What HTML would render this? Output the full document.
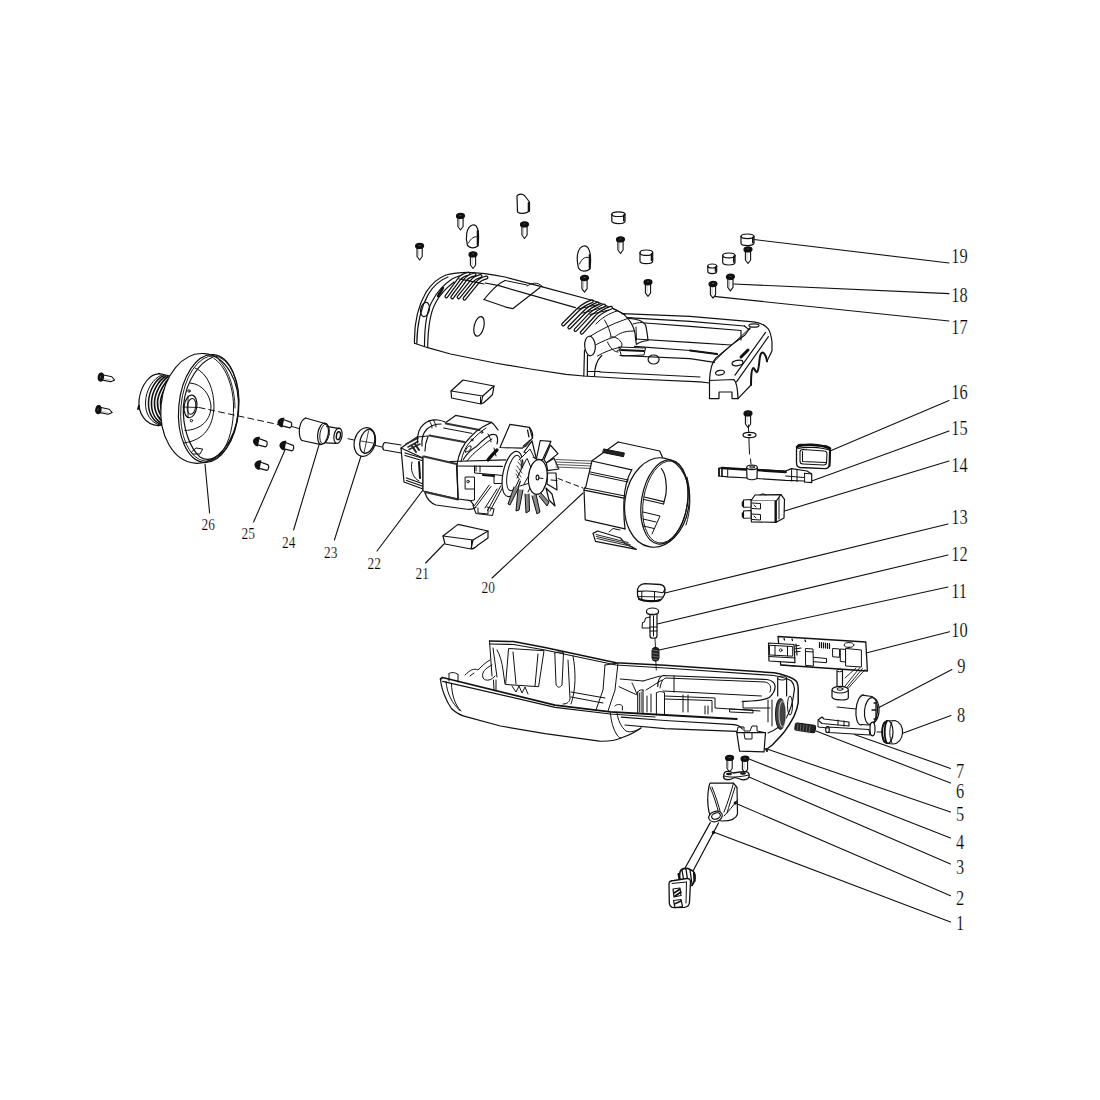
<!DOCTYPE html>
<html><head><meta charset="utf-8"><style>
html,body{margin:0;padding:0;background:#fff;width:1100px;height:1100px;overflow:hidden}
svg{position:absolute;left:0;top:0}
text{font-family:"Liberation Serif",serif;font-size:20px;fill:#000;stroke:#fff;stroke-width:0.2px}
</style></head><body>
<svg width="1100" height="1100" viewBox="0 0 1100 1100">
<defs>
<symbol id="sv" overflow="visible">
<path d="M-2.6,1.5 L-2.6,11 L0,14.5 L2.6,11 L2.6,1.5" fill="#fff" stroke="#111" stroke-width="1.1"/>
<path d="M-0.9,3.5 L-0.9,10.5" stroke="#aaa" stroke-width="0.7"/>
<ellipse cx="0" cy="0.4" rx="4" ry="2.6" fill="#111"/>
<ellipse cx="0" cy="-0.1" rx="2.1" ry="1" fill="#666"/>
</symbol>
</defs>
<g fill="none" stroke="#111" stroke-width="1.2" stroke-linejoin="round" stroke-linecap="round">
<path d="M754,239.5 L949,263" stroke-width="1.1"/>
<path d="M733.6,284 L949,293.6" stroke-width="1.1"/>
<path d="M713.6,296.4 L949,321" stroke-width="1.1"/>
<path d="M830,451 L949,400.5" stroke-width="1.1"/>
<path d="M811.7,481 L949,431" stroke-width="1.1"/>
<path d="M784.5,511 L949,461" stroke-width="1.1"/>
<path d="M665,593 L948,524" stroke-width="1.1"/>
<path d="M657.3,624 L948,555" stroke-width="1.1"/>
<path d="M659,650 L948,587" stroke-width="1.1"/>
<path d="M867,652.7 L949.5,631.7" stroke-width="1.1"/>
<path d="M878,708 L951.9,669.4" stroke-width="1.1"/>
<path d="M902,733.6 L951,715.5" stroke-width="1.1"/>
<path d="M854.5,734.5 L950.5,768.4" stroke-width="1.1"/>
<path d="M816,731 L950.5,783" stroke-width="1.1"/>
<path d="M767,749 L950.5,812" stroke-width="1.1"/>
<path d="M749.7,759.3 L950.5,838" stroke-width="1.1"/>
<path d="M749,777 L950.5,864" stroke-width="1.1"/>
<path d="M735,803 L950.5,895.7" stroke-width="1.1"/>
<path d="M713.4,832 L950.5,922" stroke-width="1.1"/>
<path d="M205,464 L209.6,513" stroke-width="1.1"/>
<path d="M285,450 L253.6,522" stroke-width="1.1"/>
<path d="M319,445 L293.6,530" stroke-width="1.1"/>
<path d="M361,456 L334.4,540" stroke-width="1.1"/>
<path d="M423,490 L377,551" stroke-width="1.1"/>
<path d="M444,544 L425.6,563" stroke-width="1.1"/>
<path d="M583,493 L492,578" stroke-width="1.1"/>
<text transform="translate(951.2,262.7) scale(0.8,1)" style="font-size:20.5px">19</text>
<text transform="translate(951.2,301.8) scale(0.8,1)" style="font-size:20.5px">18</text>
<text transform="translate(951.2,334) scale(0.8,1)" style="font-size:20.5px">17</text>
<text transform="translate(951.2,399) scale(0.8,1)" style="font-size:20.5px">16</text>
<text transform="translate(951.2,435) scale(0.8,1)" style="font-size:20.5px">15</text>
<text transform="translate(951.2,472) scale(0.8,1)" style="font-size:20.5px">14</text>
<text transform="translate(951.2,523.7) scale(0.8,1)" style="font-size:20.5px">13</text>
<text transform="translate(951.2,561) scale(0.8,1)" style="font-size:20.5px">12</text>
<text transform="translate(951.2,598) scale(0.8,1)" style="font-size:20.5px">11</text>
<text transform="translate(951.2,636.7) scale(0.8,1)" style="font-size:20.5px">10</text>
<text transform="translate(957.3,673.2) scale(0.8,1)" style="font-size:20.5px">9</text>
<text transform="translate(956.9,721.8) scale(0.8,1)" style="font-size:20.5px">8</text>
<text transform="translate(956.0,778) scale(0.8,1)" style="font-size:20.5px">7</text>
<text transform="translate(956.0,798) scale(0.8,1)" style="font-size:20.5px">6</text>
<text transform="translate(956.0,820.7) scale(0.8,1)" style="font-size:20.5px">5</text>
<text transform="translate(956.0,849) scale(0.8,1)" style="font-size:20.5px">4</text>
<text transform="translate(956.0,874) scale(0.8,1)" style="font-size:20.5px">3</text>
<text transform="translate(956.0,905) scale(0.8,1)" style="font-size:20.5px">2</text>
<text transform="translate(956.0,930) scale(0.8,1)" style="font-size:20.5px">1</text>
<text transform="translate(201.5,530.2) scale(0.76,1)" style="font-size:17.6px">26</text>
<text transform="translate(241.6,539.4) scale(0.76,1)" style="font-size:17.6px">25</text>
<text transform="translate(282,547.6) scale(0.76,1)" style="font-size:17.6px">24</text>
<text transform="translate(324,557.6) scale(0.76,1)" style="font-size:17.6px">23</text>
<text transform="translate(367.6,569) scale(0.76,1)" style="font-size:17.6px">22</text>
<text transform="translate(415.6,579) scale(0.76,1)" style="font-size:17.6px">21</text>
<text transform="translate(481.6,593) scale(0.76,1)" style="font-size:17.6px">20</text>
<use href="#sv" x="419.6" y="245.5"/>
<use href="#sv" x="460.5" y="215.5"/>
<use href="#sv" x="473" y="254"/>
<use href="#sv" x="524.5" y="224"/>
<use href="#sv" x="584.5" y="277.6"/>
<use href="#sv" x="620.5" y="239"/>
<use href="#sv" x="648" y="281.8"/>
<use href="#sv" x="748" y="249"/>
<use href="#sv" x="730.4" y="276.4"/>
<use href="#sv" x="713" y="283.6"/>
<use href="#sv" x="748" y="413"/>
<use href="#sv" x="729.6" y="757.5"/>
<use href="#sv" x="745" y="758.3"/>
<g transform="translate(280,422) rotate(12)"><path d="M2,-3.2 L11,-2 A1.6,3 0 0 1 11,3.6 L2,3.2" fill="#fff"/><path d="M3.5,-5 C0,-5 -2.5,-2 -2.5,0 C-2.5,2.5 0,5 3.5,5 Z" fill="#111" stroke="none"/></g>
<g transform="translate(255.5,441) rotate(12)"><path d="M2,-3.2 L11,-2 A1.6,3 0 0 1 11,3.6 L2,3.2" fill="#fff"/><path d="M3.5,-5 C0,-5 -2.5,-2 -2.5,0 C-2.5,2.5 0,5 3.5,5 Z" fill="#111" stroke="none"/></g>
<g transform="translate(282,445) rotate(12)"><path d="M2,-3.2 L11,-2 A1.6,3 0 0 1 11,3.6 L2,3.2" fill="#fff"/><path d="M3.5,-5 C0,-5 -2.5,-2 -2.5,0 C-2.5,2.5 0,5 3.5,5 Z" fill="#111" stroke="none"/></g>
<g transform="translate(257,464.5) rotate(12)"><path d="M2,-3.2 L11,-2 A1.6,3 0 0 1 11,3.6 L2,3.2" fill="#fff"/><path d="M3.5,-5 C0,-5 -2.5,-2 -2.5,0 C-2.5,2.5 0,5 3.5,5 Z" fill="#111" stroke="none"/></g>
<g transform="translate(100.5,377) rotate(-78)"><use href="#sv"/></g>
<g transform="translate(98,409.5) rotate(-78)"><use href="#sv"/></g>
<ellipse cx="618.4" cy="214.16" rx="6.600000000000023" ry="2.3599999999999968"/><path d="M611.8,214.16 L611.8,221.24 A6.600000000000023,2.3599999999999968 0 0 0 625,221.24 L625,214.16"/><path d="M623.8,215.16 L623.8,220.74" stroke-width="1.6"/>
<ellipse cx="646.35" cy="252.72" rx="6.350000000000023" ry="2.7200000000000046"/><path d="M640,252.72 L640,260.88 A6.350000000000023,2.7200000000000046 0 0 0 652.7,260.88 L652.7,252.72"/><path d="M651.5,253.72 L651.5,260.38" stroke-width="1.6"/>
<ellipse cx="747.5" cy="236.3" rx="6.5" ry="2.3000000000000003"/><path d="M741,236.3 L741,243.2 A6.5,2.3000000000000003 0 0 0 754,243.2 L754,236.3"/><path d="M752.8,237.3 L752.8,242.7" stroke-width="1.6"/>
<ellipse cx="728.85" cy="255.4" rx="6.149999999999977" ry="2.4000000000000004"/><path d="M722.7,255.4 L722.7,262.6 A6.149999999999977,2.4000000000000004 0 0 0 735,262.6 L735,255.4"/><path d="M733.8,256.4 L733.8,262.1" stroke-width="1.6"/>
<ellipse cx="712.25" cy="266" rx="4.4500000000000455" ry="2"/><path d="M707.8,266 L707.8,271.6 A4.4500000000000455,2 0 0 0 716.7,271.6 L716.7,266"/><path d="M715.5,267 L715.5,271.1" stroke-width="1.6"/>
<path d="M467.5,245.5 C465,237 466.5,227 472.5,225 C477.5,224 479,231 478.5,240 L478,246 C474.5,248.5 470,248.5 467.5,245.5 Z"/><path d="M468.5,243 C471,238 474.5,236 477.5,237" stroke-width="1"/><path d="M477.6,231 L477.6,245" stroke-width="1.8"/>
<path d="M517,196 C518.5,193.5 522.5,193.5 524.5,195.5 L529.5,202 L529.5,211 C526,214 520,214 517.5,212 Z"/><path d="M528.6,203 L528.6,211" stroke-width="1.8"/>
<path d="M578.5,268 C576,258 577,248 583.5,246 C589,245 591,253 590.5,263 L590,269 C586,272 581,272 578.5,268 Z"/><path d="M579.5,264 C582,258 586,256 589.5,258" stroke-width="1"/><path d="M589.6,255 L589.6,268" stroke-width="1.8"/>
<g id="tophousing">
<!-- main body outline -->
<path d="M414.5,343.2 C414,325 417,308 426,292.3 C432,283 438,278 446,275 C453,273 460,272.3 468,272.3 C478,272.5 490,274 505,277 L542.3,286.9 L593,300.5 C603,303.5 613,308.7 625,314.6" />
<path d="M416.8,343.5 C417,326 420,309 428.5,294 C434,285 440,280 448,277" />
<path d="M424.5,346 C424.5,325 427,310 432.3,301 C437,292 443,285 452,279 C458,276 463,274.5 470,274" />
<path d="M427.7,346.8 C428,327 430.5,312 435.5,303 C440,294 446,288 454,282" />
<path d="M414.5,343.2 L427.7,347.7 L450.5,354 L495,363 L530.5,369 L566,374.3 L583.7,376 L625,378.5 L700,381.8 L709.5,383" />
<path d="M600,372 L700,377" />
<!-- left holes -->
<ellipse cx="425" cy="309.5" rx="4.3" ry="7.3" transform="rotate(12 425 309.5)"/>
<ellipse cx="479" cy="326.4" rx="4.8" ry="10" transform="rotate(14 479 326.4)"/>
<!-- small slot marks -->
<path d="M438,296 L443,288" stroke-width="2.2"/>
<!-- left vents -->
<path d="M446.4,296.4 L459.5,278.6 Q462.5,275.1 468.5,273.8" stroke-width="4"/><path d="M446.4,296.4 L459.5,278.6 Q462.5,275.1 468.5,273.8" stroke="#fff" stroke-width="1.5"/>
<path d="M452.3,297.3 L465.5,279.5 Q468.5,276.0 474.5,274.6" stroke-width="4"/><path d="M452.3,297.3 L465.5,279.5 Q468.5,276.0 474.5,274.6" stroke="#fff" stroke-width="1.5"/>
<path d="M458.6,297.3 L471.8,281 Q474.8,277.5 480.5,276" stroke-width="4"/><path d="M458.6,297.3 L471.8,281 Q474.8,277.5 480.5,276" stroke="#fff" stroke-width="1.5"/>
<path d="M464.5,298.6 L477.7,282.3 Q480.7,278.8 486.5,277.5" stroke-width="4"/><path d="M464.5,298.6 L477.7,282.3 Q480.7,278.8 486.5,277.5" stroke="#fff" stroke-width="1.5"/>
<path d="M438,296 L443,288" stroke-width="2.2"/>
<path d="M459,279 L480,283 M465,280 L484,284" stroke-width="1"/>
<!-- ridge line & window -->
<path d="M485,283 L499,285.7 L575.4,307.6" />
<path d="M484,299.5 L505,306.8 L512.7,308.7 L540,287.5" />
<path d="M484,299.5 C490,292 497,284 505,280.5" />
<path d="M505,280.5 L527,285" stroke-width="1"/>
<path d="M527,286 C532,283 537,281 543,287" stroke-width="1"/>
<!-- right vents -->
<path d="M563.2,324.5 L578.2,309.5 Q584,304 591.8,301.4" stroke-width="4"/><path d="M563.2,324.5 L578.2,309.5 Q584,304 591.8,301.4" stroke="#fff" stroke-width="1.5"/>
<path d="M569.3,327.5 L584,312.5 Q590,306.5 597.5,303.6" stroke-width="4"/><path d="M569.3,327.5 L584,312.5 Q590,306.5 597.5,303.6" stroke="#fff" stroke-width="1.5"/>
<path d="M575.5,330 L590,314.5 Q596,309 604,305.5" stroke-width="4"/><path d="M575.5,330 L590,314.5 Q596,309 604,305.5" stroke="#fff" stroke-width="1.5"/>
<path d="M581.8,332.7 L596.4,316.4 Q602,311 611,307.7" stroke-width="4"/><path d="M581.8,332.7 L596.4,316.4 Q602,311 611,307.7" stroke="#fff" stroke-width="1.5"/>
<path d="M578,309 L601,304 M583,313 L606,306.5 M590,314.5 L609,310" stroke-width="1"/>
<!-- shoulder -->
<path d="M612.7,308.2 C620,311 627,316 631,322.7 C634,328 635.5,334 635.5,338.2 L636.4,344.5" />
<path d="M590,336.4 C600,330 612,324 623.6,320 C627,318.5 630,318 632,318" stroke-width="1"/>
<path d="M596.4,344.5 C603,341 608,339 614.5,337 C620,333 624,331 634,331" stroke-width="1"/>
<path d="M604.5,320 C608,326 610,331 611,336" stroke-width="1"/>
<path d="M596,324 C601,318 610,313 617,311" stroke-width="1"/>
<path d="M597.5,356 C604,352 612,349 620,347.3" stroke-width="1"/>
<ellipse cx="590" cy="346" rx="5.3" ry="9.8" transform="rotate(-5 590 346)"/>
<path d="M584.5,350 L583.8,376 M587.5,355 L587.3,376" />
<path d="M594.5,376 C594.5,368 597,360 601.8,355.5" />
<path d="M610,337 C615,336 620,339 622,344 C622,348 620,350 617,351" stroke-width="1"/>
<path d="M607.5,342 C610,348 614,352 618,352" stroke-width="1"/>
<path d="M587.5,371.5 L600,371.5" stroke-width="1"/>
<!-- saddle -->
<path d="M630,318.5 C638,319 643,321 645.5,325 C647,330 647.5,336 648,340.5 C644,341 640,342 637,344" />
<path d="M633,324 C638,322.5 642,322 645,323" stroke-width="1"/>
<path d="M636,327 L636.5,340" stroke-width="1"/>
<!-- frame rails -->
<path d="M621.8,313.6 L690,316.4 L753.6,321.8 C760,322.5 765,325 768,328.6 C770,331 771,334 772,341.8 L772,350.5 C771,354 769,356 767,361.4" />
<path d="M627,317.7 L690,321.4 L744.5,326" />
<path d="M645.5,323 L690,326.4 L741,330.5 L741,340" />
<path d="M635.5,339 L690,342.3 L731,345" />
<path d="M634.5,346.4 L690,350.5 L717,354" />
<path d="M690,350.5 L717,354" stroke-width="2.2"/>
<path d="M620,355.5 L690,358.6 L714.5,362.3" />
<path d="M619,347 L645.5,348 L644,355 L622,356 Z" stroke-width="1"/>
<path d="M621,350 L644,351" stroke-width="1.8"/>
<ellipse cx="653.6" cy="359.5" rx="5.5" ry="4.5"/>
<!-- right end -->
<path d="M744.5,326 C748,329 750,331 750,328 L745,335 C735,342 725,350 716,358 C712,362 710,370 709.5,380.5" />
<path d="M750,327.7 C740,338 725,350 712.7,363" stroke-width="1"/>
<path d="M735,375.2 L765.5,332.4" /><path d="M736.5,381.8 L768.4,336.7" />
<path d="M709.5,380.5 L733.6,379.5 C736,381 737.5,385 738,398.6 L732,398.6 L732,392 L719,392 L719,398.6 L709.5,398.6 Z" />
<path d="M738,398.6 L751,385" />
<path d="M767,361.4 C766.5,358 765,354 763.3,352.7 C761,352 760,355 759.5,360 C759,366 758.5,371 756.8,372.3 C755,372 754.5,367.5 753.2,368 C751.5,369 751,376 751,385" stroke-width="2"/>
<ellipse cx="737.5" cy="363" rx="5.5" ry="2.6" transform="rotate(-10 737.5 363)"/>
<ellipse cx="720" cy="372.7" rx="4.5" ry="2.3" transform="rotate(-10 720 372.7)"/>
<path d="M741,357 L748,350" stroke-width="3"/>
<ellipse cx="754" cy="325.5" rx="5" ry="1.7"/>
</g>

<g id="endcap">
<!-- threaded neck -->
<path d="M160,374 C150,373 141,385 139,400 C138,413 145,425 158.4,425.7" />
<path d="M158.4,373.4 L170,376" /><path d="M158.4,425.7 L167,424" />
<path d="M162,375 C153,378 146,390 145.5,402 C145,414 151,423 160,425" stroke-width="1"/>
<path d="M164,375.5 C156,379 149,390 148.5,402 C148,413 153,422 162,424.8" stroke-width="1.5"/>
<path d="M166,376 C159,380 152,391 151.5,402 C151,413 156,421 164,424.5" stroke-width="1.6"/>
<path d="M168,376.5 C162,381 155,392 154.5,402 C154,412 159,420 166,424" stroke-width="1.6"/>
<path d="M170,377 C165,382 158,393 157.5,402 C157,411 162,419 168,423.5" stroke-width="1.6"/>
<path d="M171.5,378 C167,383 161,394 160.5,402 C160,411 164,418 169,423" stroke-width="1.6"/>
<path d="M139,406 L138,409" stroke-width="2"/>
<!-- flange back silhouette -->
<ellipse cx="199.6" cy="408.4" rx="38.7" ry="55" transform="rotate(5 199.6 408.4)" fill="#fff"/>
<!-- front rim outer -->
<ellipse cx="208.7" cy="408.5" rx="30" ry="54" transform="rotate(5 208.7 408.5)"/>
<ellipse cx="209.7" cy="408.5" rx="28.8" ry="52.8" transform="rotate(5 209.7 408.5)" stroke-width="0.9"/>
<!-- inner rim -->
<path d="M213,357 C200,362 186,380 183.5,405 C182,428 190,448 200,457 C206,461 214,460 222,452" />
<path d="M214,358.5 C225,365 233,385 233.5,405 C234,425 229,443 222,452" stroke-width="1"/>
<path d="M219,360 C229,370 235,390 235,408" stroke-width="0.9"/>
<!-- hub plate arcs -->
<path d="M190,383 C203,384 210,395 211,406 C211,420 201,430 185,430.5" stroke-width="1"/>
<path d="M195,368 C208,373 214,390 214,407 C213,426 205,440 184,443" stroke-width="1"/>
<ellipse cx="190.5" cy="406.4" rx="6.3" ry="11.4" transform="rotate(8 190.5 406.4)"/>
<ellipse cx="191.5" cy="406.4" rx="4.2" ry="8" transform="rotate(8 191.5 406.4)" stroke-width="1"/>
<path d="M183,407 L198,407.5 M188,396 L188,417" stroke-width="0.9"/>
<circle cx="189" cy="391" r="1.2" stroke-width="1"/>
<circle cx="191.4" cy="420.6" r="1.2" stroke-width="1"/>
<path d="M191.5,452 L196,448 L202.7,449 L200,454 L193,454 Z" stroke-width="1"/>
<!-- dashed axis -->
<path d="M199,407.5 L278,424.5" stroke-dasharray="6,4" stroke-width="1"/>
</g>

<g id="coupling">
<!-- 24 -->
<path d="M305.5,418 C301,420 299,427 299.3,432 C299.5,437 300,439 302,440.5" />
<path d="M305.5,418 L326.7,424" /><path d="M302,440.5 L321,444.6" />
<ellipse cx="323" cy="433.7" rx="5.2" ry="10.8" transform="rotate(10 323 433.7)"/>
<ellipse cx="324.6" cy="433.9" rx="4.6" ry="10" transform="rotate(10 324.6 433.9)" stroke-width="0.9"/>
<path d="M326.7,426.3 L339.7,428.6" /><path d="M325.6,442.8 L336.2,443.4" />
<ellipse cx="338" cy="435.7" rx="4" ry="7.7" transform="rotate(10 338 435.7)"/>
<ellipse cx="338.4" cy="435.7" rx="2" ry="4" transform="rotate(10 338.4 435.7)" stroke-width="1.4"/>
<path d="M291.3,426.3 L299,428.6" stroke-width="1"/>
<!-- 23 ring -->
<ellipse cx="364.8" cy="442" rx="10.4" ry="14.6" transform="rotate(15 364.8 442)" fill="#fff"/>
<ellipse cx="367.3" cy="441.3" rx="7.2" ry="12.2" transform="rotate(15 367.3 441.3)" stroke-width="1.3"/>
<path d="M372,430 C375,434 376,440 375,446" stroke-width="1"/>
<path d="M361,441 L373,443 M368.5,431 L364,453" stroke-width="0.8"/>
<path d="M348,438.7 L354,440" stroke-width="1"/>
<path d="M375.5,445.5 L382,447" stroke-width="1"/>
<!-- 25 pins -->
</g>

<g id="motor">
<!-- shaft -->
<path d="M385,442.5 C382.5,443 382,449 384,450 L401,453 M385,442.5 L401,445" />
<!-- front bracket -->
<path d="M401,448 L417,437 L428,436" />
<path d="M401,448 L404,482 L423,489 L423,458 Z" fill="#fff"/>
<path d="M405,453 L422,458 M405,455.5 L422,460.5" stroke-width="1.3"/>
<path d="M406.5,478 L422,483.5 M406.5,480.5 L422,486" stroke-width="1.3"/>
<path d="M412,462 C410,470 413,478 419,481" stroke-width="1"/>
<path d="M419,462 L420,478" stroke-width="2"/>
<path d="M406,444 L418,438 M408,447 L418,441.5 M409,449.5 L420,444" stroke-width="1.6" stroke="#333"/>
<path d="M412,446 L416,452 M415,444 L419,450" stroke-width="2" stroke="#222"/>
<!-- coil loop left -->
<path d="M417.5,443 C417,435 419,428 424,424 C428,420.5 433,419.5 438,420 C441,420.5 443,421 445,422" />
<path d="M422,446 C421.5,440 423,433 427,429 C431,425.5 436,424 441,424" />
<path d="M429,420.5 C431,423 432,426 432,428" stroke-width="1"/>
<path d="M433.5,420 C435,423 436,425 436,427" stroke-width="1"/>
<!-- stator top -->
<path d="M445.8,422.4 L455.6,415.4 L491.6,422.4 C494,424 496,427 498,430" />
<path d="M445.8,423.5 L479.6,430" stroke-width="2" stroke="#333"/>
<path d="M443.6,428 L472,433.4" stroke-width="1"/>
<path d="M429.4,435.5 L464.3,442" stroke-width="2" stroke="#333"/>
<path d="M428,436.6 C426,441 425,446 425,451" />
<!-- stator front face -->
<path d="M423,456 L423,491 L458,499 L457,464.5" fill="#fff"/>
<path d="M424,456.5 L456.7,464" stroke-width="2" stroke="#333"/>
<path d="M425,492 L458,499.5" stroke-width="2" stroke="#333"/>
<path d="M425,493 C427,499 430,503 436,505 L465,509 C470,510 474,509 476,507" />
<!-- stator right curved band -->
<path d="M457,464.5 C459,452 463,444 469.8,437.7 C474,433 479,429 483,426.8 L491.6,422.4" />
<path d="M461,461.7 C463,452 466,446 471,441 C476,436 480,432 486,428" stroke-width="1"/>
<circle cx="472" cy="440" r="1" stroke-width="1"/>
<circle cx="481.8" cy="432.3" r="1" stroke-width="1"/>
<path d="M465.4,452 C466,447 469,445.5 471,446 C471.5,449 469,452 465.4,452 Z" stroke-width="1"/>
<!-- coil arch right -->
<path d="M463.3,459.5 C467,453 472,449 476.3,446.4 C481,442 485,438 489.4,435.5 C492,434 494,434 496,435 C498,437 498,440 497,444" />
<path d="M467,461 C471,456 475,452 479,449 C484,445 488,441 492,439" stroke-width="1"/>
<path d="M488,434 C490,437 491,440 491,442" stroke-width="1"/>
<path d="M488,460 C491,456 495,452 497,450" stroke-width="3.2"/>
<path d="M494,448 L496,456" stroke-width="1"/>
<!-- rear bracket -->
<path d="M450,461.5 L505.6,459.8 M456.5,466 L502.4,466.4" />
<path d="M456.5,466 L458.2,499 L470.5,500.7 L474,505.6" fill="none"/>
<path d="M474.5,466 L474.5,473 L502.4,475.4 L503,483.5 L494,483.5 L494,474.5" stroke-width="1"/>
<path d="M465.5,477 L474.5,477 L474.5,489 L465.5,489 Z" stroke-width="1"/>
<circle cx="468" cy="481.5" r="1.3" stroke-width="0.9"/>
<path d="M474.5,489 L474.5,500 L470.5,500.7" stroke-width="1"/>
<path d="M489.3,485 L474.5,505.6 M491,486.5 L476.5,506" stroke-width="1"/>
<path d="M500.7,486 L487.6,510.5 M503,487 L490,511 M497,489 L485,508" stroke-width="1"/>
<path d="M473,505.6 L476,513.5 L492.5,515.5 L494,509 L487,507" stroke-width="1.1"/>
<path d="M478,508 L478,513 L488,514 L488,509" stroke-width="1"/>
<path d="M476,466 L476,471 M480,466 L480,472" stroke-width="1"/>
<path d="M483,475 L494,476" stroke-width="2"/>
<!-- brush holder box -->
<path d="M500,447.5 L510,424.3 L529.4,427.4 L532.5,438.2 L522.5,448.2 Z" fill="#fff"/>
<path d="M529.4,427.4 C532,430 533,434 532.5,438.2 M527.5,430 L529,437" stroke-width="1.2"/>
<path d="M523,446 L530,440 M525,447 L532,441" stroke-width="1"/>
<!-- fan back ring -->
<ellipse cx="512.5" cy="474" rx="9.5" ry="23" transform="rotate(12 512.5 474)" fill="#fff"/>
<ellipse cx="514" cy="473" rx="6.5" ry="18" transform="rotate(12 514 473)" stroke-width="1"/>
<!-- fan blades top/right (wide) -->
<path d="M524,452 L532,441 L536.4,459 Z" fill="#fff"/>
<path d="M540.2,440.5 L551,441.3 L542.5,459.8 L536.4,459 Z" fill="#fff"/>
<path d="M550.3,445 L558,453.6 L546.4,463 L544,459.8 Z" fill="#fff"/>
<path d="M554,458.3 L558.8,469 L547.6,470.6 L546.4,463 Z" fill="#fff"/>
<path d="M547.6,473 L556,473 L557,490 L547,484 Z" fill="#fff"/>
<path d="M551,480 L557,480.5" stroke-width="1"/>
<path d="M546,488 L552,494 L555,506 L549,500 Z" fill="#fff"/>
<path d="M541,493 L549,502 L547,506 L539,496" fill="#888" stroke-width="1"/>
<!-- fan blades bottom (thin dark) -->
<path d="M536,494 L540,512 L537,514 L532,496" fill="#888" stroke-width="1"/>
<path d="M529,494 L529.5,511 L526,513 L525,494" fill="#888" stroke-width="1"/>
<path d="M523,490 L519,510 L516,511 L518,489" fill="#888" stroke-width="1"/>
<path d="M519,487 L510,505 L508,504 L514,487" fill="#888" stroke-width="1"/>
<!-- inner blades -->
<path d="M517,478 L527,458 L532,470 L524,484" fill="#fff" stroke-width="1"/>
<path d="M519,460 L530,449 L534,457" fill="#fff" stroke-width="1"/>
<path d="M518,462 L523,468 M517,466 L522,473 M516,470 L521,477 M516,474 L520,480" stroke-width="0.8"/>
<path d="M520,486 L533,482 L528,492" stroke-width="1"/>
<!-- fan hub disc -->
<ellipse cx="537.8" cy="477" rx="9.3" ry="17.5" transform="rotate(5 537.8 477)" fill="#fff"/>
<ellipse cx="537.5" cy="477.5" rx="1.4" ry="2.4" stroke-width="1.1"/>
<path d="M539,478 L543,478.5" stroke-width="1"/>
<!-- wires -->
<path d="M556,459.5 L591,461 M556,462 L591,463.5 M556,464.5 L591,466 M556,467 L591,468.5" stroke-width="0.9" stroke="#444"/>
<path d="M558,478.5 L583,488" stroke-dasharray="5,3.5" stroke-width="1"/>
</g>

<g id="magnets">
<path d="M443,536 L458,524.4 L488,531 L473,540 Z" fill="#fff"/>
<path d="M443,536 L445,544 L471,549 L473,540 M471,549 C474,549 476,547 478,545 L488,538 L488,531" />
<path d="M471.5,540.5 L471.5,548.5" stroke-width="1"/>
<path d="M451,391 L463,380 L494,386 L482.7,396 Z" fill="#fff"/>
<path d="M451,391 L451.6,398 L481,404 L482.7,396 M481,404 C484,403 486,401 488,399 L492.5,394.5 L494,386" />
<path d="M480.5,397 L480.5,403.5" stroke-width="1"/>
</g>

<g id="housing20">
<!-- body -->
<path d="M618.2,442 L659.7,451 L662.5,457.3" />
<path d="M618.2,442 L592,460.7 L585.8,486.8 L584,489 L585.2,519.8 L625,528.9" />
<path d="M592,461 L631.8,469.8" />
<path d="M590.3,472 L628.4,480 M590,474 L628,482" stroke-width="1"/>
<path d="M584.7,488 L625,496 M584,490.2 L623.9,498.2" />
<path d="M631.8,469.8 C627,478 624.5,490 624,500 C623.5,510 624,520 625,528.9" />
<path d="M604,449 L624.4,453 L623.5,456.7 L603,452.5 Z" fill="#222" stroke-width="1"/>
<!-- bottom clip -->
<path d="M593,533.4 L597.7,531 L620.5,538 L625,543.6 L636.4,549.3 M595.5,541.4 L636.4,549.3 M593,533.4 L595.5,541.4" />
<path d="M596,534.5 L628,542.5 M596.5,536.5 L630,544.5 M597,538.5 L632,546.5" stroke-width="1.2" stroke="#333"/>
<path d="M609,532 L613,528.5 L620,530" stroke-width="1"/>
<!-- ring outer -->
<ellipse cx="657" cy="502.5" rx="32" ry="45" transform="rotate(9 657 502.5)" fill="#fff"/>
<ellipse cx="664.5" cy="502" rx="23" ry="42.5" transform="rotate(9 664.5 502)" />
<path d="M687,477 C691,492 691,510 686,525" stroke-width="1"/>
<ellipse cx="665.3" cy="502" rx="22" ry="41.4" transform="rotate(9 665.3 502)" stroke-width="0.9"/>
<!-- interior -->
<path d="M661.4,468.6 C666,474 667,486 666,494 L663.6,503.9" />
<path d="M644.3,497 L663.6,501.6 M644,499.5 L663.5,504" />
<path d="M643,512 L660,516 L652,534" stroke-width="1"/>
<path d="M643,519 L656,522 M643.5,526 L654,528.5" stroke-width="1"/>
</g>

<g id="bottomhousing">
<!-- outer shell bottom contour -->
<path d="M440.5,679 C441,688 446,701 451.4,708.5 C456,713 462,716 467.7,717.2 L500.4,726 L545,733.6 L599.5,741.2 C607,741.5 615,740.5 621,738 C630,735 637,731 641,728" />
<path d="M446,681.3 C447,694 452,703 460,710.7" stroke-width="1"/>
<path d="M451.4,683.4 C452,696 455,705 461,711" stroke-width="1"/>
<!-- front rail -->
<path d="M440.5,679 L442.5,677.5 L555,705.2 L610.4,711.8 L665,715 L736.8,719" stroke-width="1.8"/>
<path d="M442.6,681.3 L555,707.4 L610.4,714 L655,717" />
<!-- back wall top edge -->
<path d="M489.5,641 L513.5,641.5 L545,647.5 L616,662.7 L665,665.2 L773.7,672.7 C780,674 785,675 788.7,676.8 C793,678.5 796,680 797,682.3 C798,685 798.2,687 798.2,689 L798.2,702.7 C797.5,708 796,712 794,716.4 C791,722 788,727 784.6,731.4 C780,737 776,741 772.3,745 L766.9,749" stroke-width="1.5"/>
<path d="M489.5,644 L513.5,644.5 L545,650 L616,665 L665,668 L773.7,675.5 C782,677 788,678.5 791.4,681 C794,684 795,688 794,692 C793,702 790,712 785,720 C781,726 776,730 768,733" />
<!-- left posts and back structure -->
<path d="M489.5,641 L490,648 L492,676 M493,648 L497,677 M497,650 C500,655 502,662 503,670 L505,684" stroke-width="1"/>
<path d="M509,648.5 L544,650.7 L538.6,686.7 L506,684.5 Z" stroke-width="1"/>
<path d="M513,652 L516,684 M538,654 L535,686" stroke-width="1"/>
<path d="M449,673.6 L449,681 M458,674.5 L458,682 M449,673.6 C451,672 455,672 458,674.5" stroke-width="1"/>
<path d="M465,675 C470,670 474,668 478,670 C482,666 486,662 490,660 M470,676 L474,673" stroke-width="1"/>
<path d="M492,665 C486,668 481,672 483,678 C486,682 492,680 495,676" stroke-width="1"/>
<path d="M493.5,680 L494,690 M496,680 L496,691" stroke-width="1"/>
<path d="M512,686 L516,692 L519,686 L522,693 L525,687 L528,694" stroke-width="1"/>
<!-- mid ribs -->
<path d="M554.8,653 L556,684 C557,688 560,688 562,685 L563.5,653 M554.8,653 C557,651.5 561,651.5 563.5,653" stroke-width="1"/>
<path d="M568,660 L570,699 C569,703 566,704 563,704 M573,656 C576,672 576,690 571,704" stroke-width="1"/>
<path d="M605,665 L618,663 L615,690 L608,711 M605,665 L603,690 L596,710" stroke-width="1"/>
<path d="M571,692 L605,698 M571,697 L603,703" stroke-width="1"/>
<path d="M620.2,679 L643,681 M619,686.7 L635.5,694.3" stroke-width="1"/>
<path d="M632,683 C634,687 636,691 637,695" stroke-width="1"/>
<path d="M637.7,692 L637.7,713 M643,690 L643,713" stroke-width="1.1"/>
<path d="M639.5,693 L639.5,712 M641.2,692 L641.2,712" stroke-width="1" stroke="#444"/>
<path d="M637.7,692 C639,690 641,689.5 643,690" stroke-width="1"/>
<path d="M643,681 L660,676 M646,690 L662,680" stroke-width="1"/>
<path d="M614.8,706 C616,704 621,704 622.4,706 L622.4,710" stroke-width="1"/>
<path d="M647,696 L647,712 M651,694 L651,712" stroke-width="1"/>
<!-- handle underside -->
<path d="M610.4,713 C611,721 613,729 617,735 C619,737.5 620,738 621,738" stroke-width="1"/>
<path d="M617,713 C618,720 621,727 626,731 C630,733 636,731 641,728" stroke-width="1"/>
<path d="M621.3,717.2 L665,720.5 L734,724.6" />
<path d="M625,725 L665,728.7 L736.8,731.4" />
<path d="M734,724.6 C738,725 741,727 742.3,729" />
<!-- right interior: tub -->
<path d="M657.7,686.4 C658,680 660,676 663.2,675.5 L766.9,679.5 C770,680 773,681 774.5,684 C776,688 774,693 769.6,697.3 C764,701 752,701 742.3,701.4" />
<path d="M660,688 C661,682 663,678.5 666,678 L765,682 C770,683 772,687 770,692" stroke-width="1"/>
<path d="M663,691 L761.4,696" stroke-width="1"/>
<path d="M674,676 L674,692" stroke-width="1"/>
<!-- inner components -->
<path d="M656.4,693 L656.4,715 M664.5,693 L664.5,715 M656.4,693 C659,691 662,691 664.5,693" stroke-width="1"/>
<path d="M664.5,696 L715,698 L715,708 L730,709 L760,711" stroke-width="1"/>
<path d="M664.5,699 L712,700.5 L712,712" stroke-width="1"/>
<path d="M683,695 L683,712 M688,695 L688,712" stroke-width="1"/>
<path d="M705,706 L705,714 M708,706 L708,714" stroke-width="1"/>
<path d="M743,702 L743,708 L770,708" stroke-width="1"/>
<path d="M730,709 L753,710 L753,713 L730,712 Z" stroke-width="1"/>
<path d="M768,700 L768,722 M772,700 L772,726" stroke-width="1"/>
<!-- right post and gear -->
<path d="M777.7,678 L777.7,696 M786.6,678 L786.6,696" />
<ellipse cx="782" cy="678" rx="4.5" ry="2" stroke-width="1"/>
<ellipse cx="780.5" cy="714" rx="5" ry="15.5" fill="#444" stroke-width="1"/>
<ellipse cx="782.5" cy="714" rx="3.5" ry="13" stroke="#eee" stroke-width="0.8"/>
<ellipse cx="790" cy="705.5" rx="2.5" ry="9.5" stroke-width="1"/>
<!-- front block -->
<path d="M736.8,732.7 L765.5,732.7 L764,751.9 L739.6,751.2 Z" fill="#fff"/>
<path d="M736.8,732.7 L738,727 L744,727 L744,731 L750,731 L752,726 L757,726 L757,731 L765.5,732.7" stroke-width="1"/>
<path d="M744,733 L745,739 L752,739 L752,733" stroke-width="1"/>
<path d="M766,749 L767,751" stroke-width="2"/>
</g>

<g id="smallparts">
<!-- 13 button cap -->
<path d="M637.5,592 C637,587 640,584 645,583.6 L660,584.5 C663,585 665,587 665,590 L664.5,594.5 C663,598 661,600.5 658,601 L643,600.5 C639.5,600 637.5,598 637.5,594 Z" fill="#fff" stroke-width="1.3"/>
<path d="M638,591.4 C645,590.8 655,591 662.7,592.7 C664,592 664.5,590 664.8,589" stroke-width="1.1"/>
<path d="M638,596.5 L663,597" stroke-width="0.9"/>
<path d="M641.8,591.5 L641.8,600 M654.5,592 L654.5,601" stroke-width="1"/>
<path d="M639,599 C645,601.5 655,602 660,600" stroke-width="2"/>
<!-- 12 pin -->
<path d="M650,614.5 L650,636 C650,639 657,639 657,636 L657,614.5" fill="#fff"/>
<ellipse cx="652.5" cy="611.2" rx="6.1" ry="3.2" fill="#fff"/>
<path d="M646.5,611.5 L646.5,613 C647,615.5 658,615.5 658.5,613 L658.5,611.5" stroke-width="1"/>
<path d="M653.5,616 L653.5,636" stroke-width="1"/>
<path d="M650,627 L657,627 M650,631 L657,631" stroke-width="1"/>
<path d="M650,617 L645.5,618 L644.5,622 L642.5,622.5 L642,628 L650,628" stroke-width="1"/>
<path d="M655,639 L655.5,647" stroke-width="0.9"/>
<!-- 11 spring -->
<rect x="652" y="647.5" width="7" height="13.5" rx="3" fill="#222" stroke-width="1"/>
<path d="M652.5,650 L658.5,651 M652.5,653 L658.5,654 M652.5,656 L658.5,657 M652.5,659 L658.5,660" stroke="#888" stroke-width="0.7"/>
<path d="M655.8,661 L656.3,670" stroke-width="0.9"/>
<!-- 14 switch -->
<path d="M750.8,501 L755,495 L781,494.6 L776.2,501 Z" fill="#fff"/>
<path d="M750.8,501 L751.4,521.8 L776.2,522.3 L776.2,501 M776.2,522.3 L784,518 L784.5,499.3 L781,494.6" fill="#fff"/>
<path d="M775.5,501.5 L775.5,522" stroke-width="2"/>
<path d="M779,498 L779,519" stroke-width="1"/>
<path d="M760,495 C761,493.5 764,493.5 766,495" stroke-width="1"/>
<path d="M743.5,500 L751,499.5 L751,507 L743.5,507.3 Z" fill="#fff" stroke-width="1.1"/>
<path d="M743.5,511 L751,510.5 L751,518 L743.5,518.3 Z" fill="#fff" stroke-width="1.1"/>
<path d="M742.5,502 L742.5,506 M742.5,513 L742.5,517" stroke-width="1.5"/>
<path d="M752,503 L760.5,503.5 L760.5,509 L752,508.5 M752,514 L760.5,514.5 L760.5,520 L752,519.5" stroke-width="1"/>
<path d="M754,505 L756,507 M754,516 L756,518" stroke-width="1"/>
<!-- 15 lever -->
<path d="M719,468 L745.5,469 L785.6,471 L791.6,468.6 L807,471 L811.7,474 L811.7,482.7 L804.6,482 L804.6,481 L785.6,480.4 L749,478 L727.7,476.8 L719,476 Z" fill="#fff"/>
<path d="M721.8,468 L745.5,469.5 M757.3,470 L785.6,472" stroke-width="2.6"/>
<path d="M719,468.5 L719,476 M722,469 L722,476.5" stroke-width="1.6"/>
<path d="M727.7,469.5 L727.7,476.8" stroke-width="1"/>
<path d="M746.6,467.5 L747,478.5 C750,480 754,480 757,478.5 L757.3,467.5" fill="#fff"/>
<ellipse cx="752" cy="467.3" rx="5.3" ry="2.3" fill="#fff"/>
<ellipse cx="752" cy="467" rx="2.5" ry="1" stroke-width="1"/>
<path d="M791.6,469.7 L791.6,481 M797,470 L797,481.5 M804.6,473.3 L804.6,482" stroke-width="1"/>
<path d="M785.6,476 L804,477.5" stroke-width="1"/>
<path d="M804.6,473.3 L811.7,474" stroke-width="1"/>
<path d="M748.4,425 L749.5,454 M750.5,459 L751,464" stroke-width="1"/>
<ellipse cx="749.5" cy="435" rx="6.5" ry="2.6" fill="#fff"/>
<ellipse cx="749.5" cy="435" rx="2" ry="1" fill="#111" stroke="none"/>
<!-- 16 gasket -->
<path d="M796.5,449 C796.5,446 798,444.5 801,444.5 L826,446 C829,446.5 830.5,448 830.5,451 L829.5,465 C829,467.5 827.5,468.6 825,468.6 L800,467.5 C797.5,467 796.5,465.5 796.5,463 Z" fill="#fff" stroke-width="1.3"/>
<path d="M800,452 C800,450 801,449.5 803,449.5 L824,451 C826,451 827,452 827,454 L826.5,462.5 C826.5,464.5 825.5,465 823.5,465 L803,464 C801,464 800,463 800,461 Z" stroke-width="1.1"/>
<path d="M797,447 C803,443.5 820,444 830,448.5" stroke-width="2.6"/><path d="M798,448.5 C805,446.5 820,447 829,450" stroke-width="1.2"/><path d="M802.5,451.5 L802.5,461.5 L825.5,462.5" stroke-width="1.1"/><path d="M830,449 L829.5,466" stroke-width="2"/>
<!-- 10 PCB -->
<path d="M778,636.5 L865.8,642 L867.4,671 L780.7,665 Z" fill="#fff" stroke-width="1.3"/>
<path d="M768.5,643 L794,644.5 L795,662.7 L769,661 Z" fill="#fff"/>
<path d="M769.8,645.3 L792.7,646.5 L792.7,656.2 L769.8,655 Z" stroke-width="1"/>
<path d="M775,645.8 L775,655.3 M787.5,646.3 L787.5,656" stroke-width="1"/>
<circle cx="780.7" cy="650.2" r="1.4" stroke-width="0.9"/>
<path d="M769,656.5 L795,658" stroke-width="1"/>
<path d="M795,646 L799,645.5 M795,649 L801,648 M795,652 L800,651.5 M796,644 L797,655" stroke-width="1.2"/>
<path d="M781,665 L795,666" stroke-width="1"/>
<path d="M805.8,648.5 L813,649 L813.4,666 L806,665.5 Z" fill="#fff" stroke-width="1"/>
<path d="M806,651.5 L813,652" stroke-width="1"/>
<path d="M813.4,657.3 L826.5,658.5 L826.5,662.7 L813.4,661.7" stroke-width="1"/>
<path d="M819.5,642.5 L819.5,647.5 M821.5,642.7 L821.5,647.7 M823.5,642.9 L823.5,647.9 M825.5,643.1 L825.5,648.1 M827.5,643.3 L827.5,648.3 M829.5,643.5 L829.5,648.5" stroke-width="1.2"/>
<path d="M833,648.5 L839.6,649 L839.6,657.3 L833,656.8 Z" stroke-width="1"/>
<path d="M840.7,649 L846,649.5 L846,662 L840.7,661.5 Z" stroke-width="1"/>
<path d="M846,648.5 L861.4,650 L861.4,667 L846,666 Z" fill="#fff" stroke-width="1"/>
<path d="M848,648.7 L849,647" stroke-width="1"/>
<ellipse cx="849" cy="645" rx="4.8" ry="2.4" stroke-width="1"/>
<path d="M784,638.5 L784.5,640 M792,639 L792.5,640.5 M805,640 L805.5,641.5" stroke-width="1.3"/>
<!-- pillar -->
<path d="M837,671 L837,688 M842.5,670.5 L842.5,688" />
<ellipse cx="839.7" cy="670.5" rx="2.8" ry="1.3" stroke-width="1"/>
<path d="M843.5,688 L860,667.5 M846,688.5 L862.5,668.5 M848.5,688 L865,669.5 M845,678 L856,668" stroke-width="0.9"/>
<path d="M832,690 L832,697 C833,700.5 847,701 848.3,698 L848.3,690" fill="#fff"/>
<ellipse cx="840.2" cy="689.7" rx="8.1" ry="3.3" fill="#fff"/>
<ellipse cx="840" cy="689" rx="3" ry="1.3" stroke-width="1"/>
<!-- 9 knob ring -->
<ellipse cx="862" cy="710" rx="6" ry="15" transform="rotate(5 862 710)" fill="#fff"/>
<path d="M862,695.2 L872,696.5 C877,699 879.5,705 879,712 C878,720 874,724.5 868,725 L862,724.5" fill="#fff"/>
<ellipse cx="871" cy="711" rx="6.5" ry="13.5" transform="rotate(5 871 711)" fill="#fff"/>
<path d="M874,703 L876,703 L876,719 L874,719 M872,710 L876,710" stroke-width="1.3"/>
<path d="M837,707 L856,709" stroke-width="1"/>
<!-- 7 slider rod -->
<path d="M818,720 L822,717 L824,719 L849,722 L849,726 L822,723.5 Z" fill="#fff"/>
<path d="M828,727 L869,729.5 L870,735 L829,732.5 Z" fill="#fff"/>
<ellipse cx="827.5" cy="729.7" rx="1.8" ry="3" fill="#fff"/>
<path d="M818,721 L818,727 L828,728" stroke-width="1"/>
<ellipse cx="872.5" cy="729" rx="2.5" ry="6.8" fill="#fff"/>
<path d="M838,720 L838,725 M844,721 L844,726" stroke-width="1"/>
<!-- 6 spring -->
<rect x="795" y="724" width="20.5" height="7.5" rx="2" fill="#222" transform="rotate(8 805 727.7)" stroke-width="1"/>
<path d="M798,724 L797,731 M801,724.5 L800,731.5 M804,725 L803,732 M807,725.5 L806,732.5 M810,726 L809,733" stroke="#888" stroke-width="0.7"/>
<!-- 8 knob -->
<path d="M888,721 L895,720.5 C900,722 903,727 902.5,733 C902,739 898.5,743.5 893,744 L888,743.5" fill="#fff"/>
<ellipse cx="887.5" cy="732" rx="5.5" ry="11.5" fill="#fff"/>
<path d="M884.5,722.5 C881.5,726 881.5,738 884.5,742 M887,721 C884,725 884,739 887,743" stroke-width="1.8"/>
<path d="M892,722 C889,727 889,738 892,743" stroke-width="1"/>
<path d="M877,732 L882,732" stroke-width="1"/>
</g>

<g id="cord">
<!-- 3 clamp -->
<path d="M724,774 C724,771.5 727,771 730,771.5 L733,773 L740,772 L746,771.6 C749,772 749.5,774.5 749,776.5 L748,778.5 C746,780 742,780.2 740,779 L735,777.5 L730,779.5 C726.5,780 724,779 723.5,777 Z" fill="#fff" stroke-width="1.3"/>
<ellipse cx="729" cy="774" rx="3" ry="1.3" fill="#111" stroke="none"/>
<ellipse cx="743" cy="773.5" rx="3" ry="1.3" fill="#111" stroke="none"/>
<path d="M724,776 C730,778 740,777 749,775" stroke-width="1"/>
<!-- 2 strain relief -->
<path d="M709,786 L710,783.2 L733.5,783.2 L737,787.5 L737.5,814 C736,819 731,821 722.6,821 L712,820 L709,812 C707.5,805 707.5,794 709,786 Z" fill="#fff"/>
<path d="M710,787 C714,796 717,806 719,814" stroke-width="1"/>
<path d="M712,787 C716,797 719,806 720.5,813" stroke-width="1"/>
<path d="M733.5,783.2 C731,792 728,802 724,812 M735,787 C732,797 729,806 727,813" stroke-width="1"/>
<path d="M737.5,800 C733,806 728,812 724,816" stroke-width="1"/>
<circle cx="735.3" cy="803" r="1.1" fill="#111"/>
<!-- collar -->
<ellipse cx="715.5" cy="816.5" rx="7" ry="5" transform="rotate(-20 715.5 816.5)" fill="#fff"/>
<ellipse cx="716" cy="816" rx="4.5" ry="3" transform="rotate(-20 716 816)" />
<!-- cord -->
<path d="M710.3,822.6 L684,870 M718.5,823 L693,871" fill="none"/>
<circle cx="713.4" cy="832.5" r="1.1" fill="#111"/>
<!-- plug head -->
<path d="M680,872 C681,869 684,868 688,868.5 L693,871 C695,873 695.5,877 694.5,881 L692,885.5 L684,884 L679,880 Z" fill="#fff" stroke-width="1.6"/>
<path d="M682,870 L684,882 M686,869 L688,883 M690,870 L692,884" stroke-width="1.3"/>
<path d="M678.5,874 L680,880 M694,873 L694.5,881" stroke-width="2.2"/>
<!-- plug body -->
<path d="M669,884 C669,881.5 671,880.5 674,880.5 L687,878.5 C689.5,878.3 690.5,880 690.5,882 L689.5,902 C689.4,905 687.5,907 684.5,907.3 L674.5,907.6 C671,907.6 669.3,905.5 669.3,902.5 Z" fill="#fff" stroke-width="1.3"/>
<path d="M672,883.5 L686.5,882 M686.5,882 L686,903" stroke-width="1"/>
<path d="M673,889 L680,888 L681,895.5 L674,896.8 Z" fill="#fff" stroke-width="1.2"/>
<path d="M674,893 L679.5,889.5 M675,896 L681,892" stroke-width="1.6"/>
<path d="M673.5,900.5 L681,899.5 L682.5,906.5 L675,907.6 Z" fill="#fff" stroke-width="1.2"/>
<path d="M674.5,904 L681,901" stroke-width="1.4"/>
</g>

</g>
</svg></body></html>
